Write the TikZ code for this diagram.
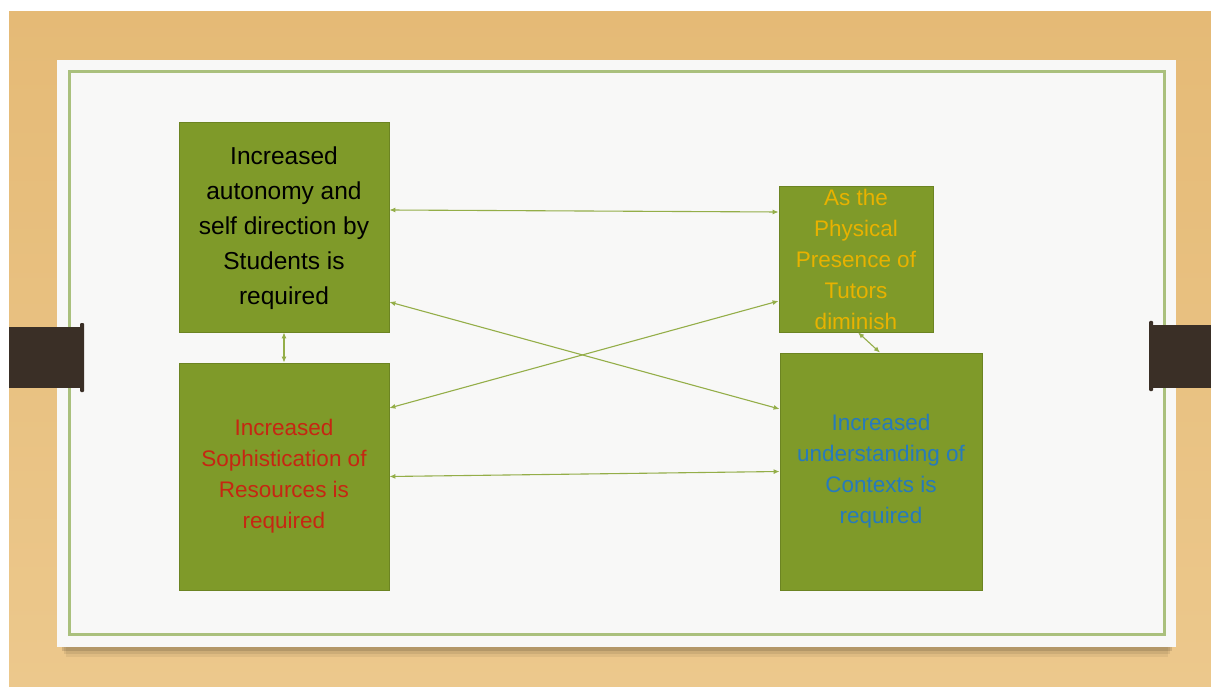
\documentclass[tikz,border=0pt]{standalone}
\usepackage{fontspec}
\setmainfont{Liberation Sans}
\usetikzlibrary{arrows.meta}
\definecolor{boxfill}{RGB}{127,154,41}
\definecolor{boxline}{RGB}{108,132,34}
\definecolor{arrowc}{RGB}{148,174,72}
\definecolor{frameg}{RGB}{170,192,125}
\definecolor{paper}{RGB}{248,248,247}
\definecolor{tabc}{RGB}{58,47,38}
\definecolor{txtgold}{RGB}{232,178,0}
\definecolor{txtred}{RGB}{198,38,18}
\definecolor{txtblue}{RGB}{38,122,188}
\definecolor{woodtop}{RGB}{229,186,118}
\definecolor{woodmid}{RGB}{243,214,165}
\definecolor{woodbot}{RGB}{236,200,140}
\begin{document}
\begin{tikzpicture}[x=1pt,y=-1pt,
  box/.style={draw=boxline,line width=0.8pt,fill=boxfill,inner sep=0pt,rectangle},
  lbl/.style={align=center,inner sep=0pt},
  link/.style={draw=arrowc,line width=1.1pt,{Latex[length=6pt,width=5pt]}-{Latex[length=6pt,width=5pt]}}]
\useasboundingbox (0,0) rectangle (1211,687);
\fill[white] (0,0) rectangle (1211,687);
\shade[top color=woodtop,middle color=woodmid,bottom color=woodbot] (9,12) rectangle (1211,687);
% paper shadow and paper
\fill[black,opacity=0.06] (66,642) rectangle (1168,657);
\fill[black,opacity=0.08] (64,642) rectangle (1170,654);
\fill[black,opacity=0.12] (62,640) rectangle (1172,651);
\fill[paper] (57,60) rectangle (1176,647);
\draw[frameg,line width=3pt] (69,72) rectangle (1164,634);
% tabs
\fill[tabc] (9,327) rectangle (83,388);
\fill[tabc,rounded corners=1pt] (80,323) rectangle (84,392);
\fill[tabc] (1150,325) rectangle (1211,388);
\fill[tabc,rounded corners=1pt] (1149,321) rectangle (1153,391);
% boxes
\node[box,minimum width=210pt,minimum height=210pt] (A) at (284,227) {};
\node[box,minimum width=154pt,minimum height=146pt] (B) at (856,259) {};
\node[box,minimum width=210pt,minimum height=227pt] (C) at (284,476.5) {};
\node[box,minimum width=202pt,minimum height=237pt] (D) at (881,471.5) {};
% connectors
\draw[link] ([yshift=17pt]A.east) -- ([yshift=47pt]B.west);
\draw[link] ([yshift=-75pt]A.east) -- ([yshift=62.5pt]D.west);
\draw[link] ([yshift=68.5pt]C.east) -- ([yshift=-42pt]B.west);
\draw[link] (C.east) -- (D.west);
\draw[link] (A.south) -- (C.north);
\draw[link] ([xshift=2pt]B.south) -- ([xshift=-1pt]D.north);
% texts
\node[lbl,text=black,font=\fontsize{24.5}{35}\selectfont] (At) at ([yshift=-1.5pt]A.center) {Increased\\autonomy and\\self direction by\\Students is\\required};
\node[lbl,text=txtgold,font=\fontsize{22.5}{31}\selectfont] (Bt) at (B.center) {As the\\Physical\\Presence of\\Tutors\\diminish};
\node[lbl,text=txtred,font=\fontsize{22.5}{31}\selectfont] (Ct) at (C.center) {Increased\\Sophistication of\\Resources is\\required};
\node[lbl,text=txtblue,font=\fontsize{22.5}{31}\selectfont] (Dt) at (D.center) {Increased\\understanding of\\Contexts is\\required};
\end{tikzpicture}
\end{document}
